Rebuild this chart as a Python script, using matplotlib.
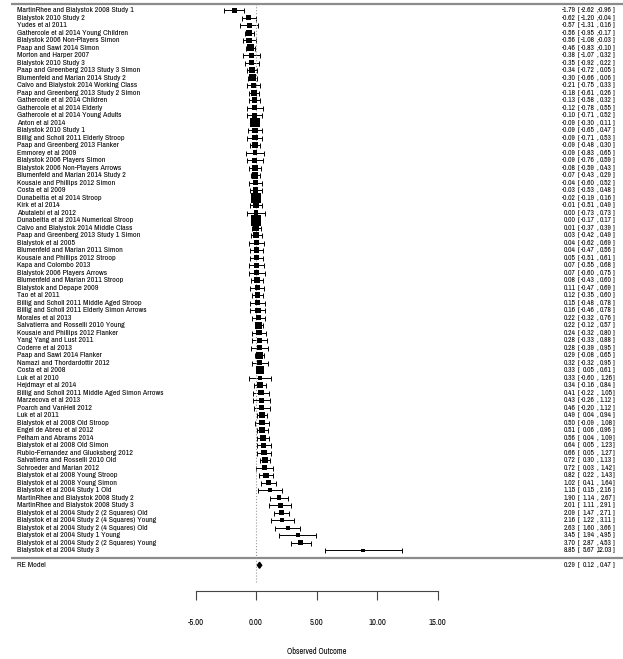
import numpy as np
import matplotlib
matplotlib.use("Agg")
import matplotlib.pyplot as plt
from matplotlib import font_manager
from matplotlib.patches import Polygon

# Study labels, top to bottom
studies = [
    "MartinRhee and Bialystok 2008 Study 1", "Bialystok 2010 Study 2", "Yudes et al 2011",
    "Gathercole et al 2014 Young Children", "Bialystok 2006 Non-Players Simon", "Paap and Sawi 2014 Simon",
    "Morton and Harper 2007", "Bialystok 2010 Study 3", "Paap and Greenberg 2013 Study 3 Simon",
    "Blumenfeld and Marian 2014 Study 2", "Calvo and Bialystok 2014 Working Class",
    "Paap and Greenberg 2013 Study 2 Simon", "Gathercole et al 2014 Children", "Gathercole et al 2014 Elderly",
    "Gathercole et al 2014 Young Adults", "Anton et al 2014", "Bialystok 2010 Study 1",
    "Billig and Scholl 2011 Elderly Stroop", "Paap and Greenberg 2013 Flanker", "Emmorey et al 2009",
    "Bialystok 2006 Players Simon", "Bialystok 2006 Non-Players Arrows", "Blumenfeld and Marian 2014 Study 2",
    "Kousaie and Phillips 2012 Simon", "Costa et al 2009", "Dunabeitia et al 2014 Stroop", "Kirk et al 2014",
    "Abutalebi et al 2012", "Dunabeitia et al 2014 Numerical Stroop", "Calvo and Bialystok 2014 Middle Class",
    "Paap and Greenberg 2013 Study 1 Simon", "Bialystok et al 2005", "Blumenfeld and Marian 2011 Simon",
    "Kousaie and Phillips 2012 Stroop", "Kapa and Colombo 2013", "Bialystok 2006 Players Arrows",
    "Blumenfeld and Marian 2011 Stroop", "Bialystok and Depape 2009", "Tao et al 2011",
    "Billig and Scholl 2011 Middle Aged Stroop", "Billig and Scholl 2011 Elderly Simon Arrows",
    "Morales et al 2013", "Salvatierra and Rosselli 2010 Young", "Kousaie and Phillips 2012 Flanker",
    "Yang Yang and Lust 2011", "Coderre et al 2013", "Paap and Sawi 2014 Flanker",
    "Namazi and Thordardottir 2012", "Costa et al 2008", "Luk et al 2010", "Hejdmayr et al 2014",
    "Billig and Scholl 2011 Middle Aged Simon Arrows", "Marzecova et al 2013", "Poarch and VanHell 2012",
    "Luk et al 2011", "Bialystok et al 2008 Old Stroop", "Engel de Abreu et al 2012", "Pelham and Abrams 2014",
    "Bialystok et al 2008 Old Simon", "Rubio-Fernandez and Glucksberg 2012", "Salvatierra and Rosselli 2010 Old",
    "Schroeder and Marian 2012", "Bialystok et al 2008 Young Stroop", "Bialystok et al 2008 Young Simon",
    "Bialystok et al 2004 Study 1 Old", "MartinRhee and Bialystok 2008 Study 2",
    "MartinRhee and Bialystok 2008 Study 3", "Bialystok et al 2004 Study 2 (2 Squares) Old",
    "Bialystok et al 2004 Study 2 (4 Squares) Young", "Bialystok et al 2004 Study 2 (4 Squares) Old",
    "Bialystok et al 2004 Study 1 Young", "Bialystok et al 2004 Study 2 (2 Squares) Young",
    "Bialystok et al 2004 Study 3",
]

estimates = [
    -1.79, -0.62, -0.57, -0.56, -0.56, -0.46, -0.38, -0.35, -0.34, -0.30, -0.21, -0.18, -0.13, -0.12,
    -0.10, -0.09, -0.09, -0.09, -0.09, -0.09, -0.09, -0.08, -0.07, -0.04, -0.03, -0.02, -0.01, 0.00,
    0.00, 0.01, 0.03, 0.04, 0.04, 0.05, 0.07, 0.07, 0.08, 0.11, 0.12, 0.15, 0.16, 0.22, 0.22, 0.24,
    0.28, 0.28, 0.29, 0.32, 0.33, 0.33, 0.34, 0.41, 0.43, 0.46, 0.49, 0.50, 0.51, 0.56, 0.64, 0.66,
    0.72, 0.72, 0.82, 1.02, 1.15, 1.90, 2.01, 2.09, 2.16, 2.63, 3.45, 3.70, 8.85,
]
ci_lower = [
    -2.62, -1.20, -1.31, -0.95, -1.08, -0.83, -1.07, -0.92, -0.72, -0.66, -0.75, -0.61, -0.58, -0.78,
    -0.71, -0.30, -0.65, -0.71, -0.48, -0.83, -0.76, -0.59, -0.43, -0.60, -0.53, -0.19, -0.51, -0.73,
    -0.17, -0.37, -0.42, -0.62, -0.47, -0.51, -0.55, -0.60, -0.43, -0.47, -0.35, -0.48, -0.46, -0.32,
    -0.12, -0.32, -0.33, -0.39, -0.08, -0.32, 0.05, -0.60, -0.16, -0.22, -0.26, -0.20, 0.04, -0.09,
    0.06, 0.04, 0.05, 0.05, 0.30, 0.03, 0.22, 0.41, 0.15, 1.14, 1.11, 1.47, 1.22, 1.60, 1.94, 2.87, 5.67,
]
ci_upper = [
    -0.96, -0.04, 0.16, -0.17, -0.03, -0.10, 0.32, 0.22, 0.05, 0.06, 0.33, 0.26, 0.32, 0.55,
    0.52, 0.11, 0.47, 0.53, 0.30, 0.65, 0.59, 0.43, 0.29, 0.52, 0.48, 0.16, 0.49, 0.73,
    0.17, 0.39, 0.49, 0.69, 0.56, 0.61, 0.68, 0.75, 0.60, 0.69, 0.60, 0.78, 0.78, 0.76,
    0.57, 0.80, 0.88, 0.95, 0.65, 0.95, 0.61, 1.26, 0.84, 1.05, 1.12, 1.12, 0.94, 1.08,
    0.96, 1.09, 1.23, 1.27, 1.13, 1.42, 1.43, 1.64, 2.16, 2.67, 2.91, 2.71, 3.11, 3.66, 4.95, 4.53, 12.03,
]

re_label = "RE Model"
re_est, re_lb, re_ub = 0.29, 0.12, 0.47
tick_values = [-5, 0, 5, 10, 15]
x_label = "Observed Outcome"

# the original text is a narrow grotesque, pick the closest installed one
names = {f.name for f in font_manager.fontManager.ttflist}
for fam in ["Liberation Sans Narrow", "Archivo Narrow", "Roboto Condensed", "Barlow Semi Condensed", "Liberation Sans"]:
    if fam in names:
        plt.rcParams["font.family"] = fam
        break

xmin, xmax = -21.16, 30.33
fig = plt.figure(figsize=(6.23, 6.59), dpi=100)
ax = fig.add_axes([0, 0.1032, 1, 0.8968])
ax.set_xlim(xmin, xmax)
ax.set_ylim(-4.43, 74.37)

est = np.array(estimates)
lb = np.array(ci_lower)
ub = np.array(ci_upper)
k = len(studies)
rows = np.arange(k, 0, -1)

# square size the way metafor does it: 1/SE rescaled to 0.5 .. 1.5
w = 1 / (ub - lb)
psize = 0.5 + (w - w.min()) / (w.max() - w.min())

ax.errorbar(est, rows, xerr=[est - lb, ub - est], fmt="none", ecolor="black",
            elinewidth=0.7, capsize=1.8, capthick=0.7, zorder=2)
ax.scatter(est, rows, marker="s", s=(psize * 7 * 0.72) ** 2, color="black",
           linewidths=0, zorder=3)

# summary diamond
ax.add_patch(Polygon([(re_lb, -1), (re_est, -0.6), (re_ub, -1), (re_est, -1.4)],
                     closed=True, color="black", zorder=3))

# frame lines and reference line
ax.hlines([k + 0.84, 0], -20.25, xmax, colors="#8c8c8c", linewidth=1.6)
ax.vlines(0, -3.2, k + 0.84, colors="#999999", linestyles=":", linewidth=0.8)

# text columns
label_x = -19.75
fs_lab = 5.75
fs_val = 5.4
for y, name, e, lo, hi in zip(list(rows) + [-1], studies + [re_label],
                              list(est) + [re_est], list(lb) + [re_lb], list(ub) + [re_ub]):
    ax.text(label_x, y, name, ha="left", va="center", fontsize=fs_lab)
    ax.text(26.40, y, f"{e:.2f}", ha="right", va="center", fontsize=fs_val)
    ax.text(26.57, y, "[", ha="left", va="center", fontsize=fs_val)
    ax.text(28.00, y, f"{lo:.2f}", ha="right", va="center", fontsize=fs_val)
    ax.text(28.10, y, ",", ha="left", va="center", fontsize=fs_val)
    ax.text(29.43, y, f"{hi:.2f}", ha="right", va="center", fontsize=fs_val)
    ax.text(29.51, y, "]", ha="left", va="center", fontsize=fs_val)

# x axis
for side in ["left", "right", "top"]:
    ax.spines[side].set_visible(False)
ax.spines["bottom"].set_bounds(tick_values[0], tick_values[-1])
ax.spines["bottom"].set_color("#444444")
ax.spines["bottom"].set_linewidth(0.8)
ax.set_yticks([])
ax.set_xticks(tick_values)
ax.set_xticklabels([f"{v:.2f}" for v in tick_values])
ax.tick_params(axis="x", direction="out", length=6.5, width=0.8, pad=13,
               labelsize=6.2, color="#444444")
ax.set_xlabel(x_label, fontsize=6.0)
ax.xaxis.set_label_coords((5 - xmin) / (xmax - xmin), -0.095)

fig.savefig("out.png", dpi=100)
